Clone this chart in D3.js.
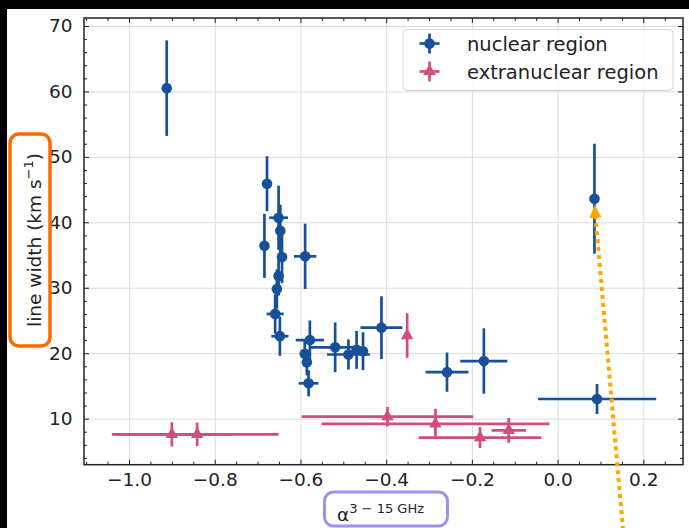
<!DOCTYPE html>
<html><head><meta charset="utf-8">
<script src="https://cdn.jsdelivr.net/npm/d3@7"></script>
<style>
html,body{margin:0;padding:0;background:#000;}
svg{display:block;font-family:"DejaVu Sans",sans-serif;}
</style></head>
<body>
<svg id="c" width="689" height="528"></svg>
<script>
// ---- data ----
const nucX    = [-0.912,-0.678,-0.684,-0.651,-0.647,-0.643,-0.589,-0.651,-0.655,-0.659,-0.648,-0.578,-0.590,-0.585,-0.581,-0.519,-0.488,-0.469,-0.454,-0.411,-0.258,-0.172,0.086,0.092];
const nucY    = [60.5,45.9,36.4,40.7,38.7,34.7,34.8,31.8,29.8,26.0,22.6,22.0,19.9,18.6,15.4,20.9,19.8,20.5,20.3,23.9,17.1,18.8,43.6,13.0];
const nucXErr = [0,0,0,0.022,0,0,0.026,0,0,0.020,0.020,0.033,0,0,0.023,0.060,0.050,0,0,0.049,0.050,0.055,0,0.138];
const nucYErr = [7.3,4.2,4.9,4.9,4.0,4.0,5.0,3.0,3.0,3.0,3.0,3.0,2.0,2.0,2.0,3.8,2.3,2.9,2.9,4.8,3.0,5.0,8.4,2.3];

const extX    = [-0.900,-0.841,-0.397,-0.285,-0.181,-0.114,-0.351];
const extY    = [7.6,7.6,10.3,9.2,7.1,8.2,22.7];
const extXErr = [0.14,0.19,0.20,0.266,0.143,0.040,0];
const extYErr = [1.85,1.8,1.5,2.3,1.6,1.9,3.4];

const xMajor = [-1.0,-0.8,-0.6,-0.4,-0.2,0.0,0.2];
const yMajor = [10,20,30,40,50,60,70];
const seriesNames = ["nuclear region","extranuclear region"];

// ---- layout ----
const svg = d3.select("#c");
const W = 689, H = 528;
const L = 84, R = 683, T = 18, B = 464.7;
const blue = "#17509a", pink = "#d64b7d";
const tickFont = 18.5;

svg.append("rect").attr("x",0).attr("y",0).attr("width",W).attr("height",H).attr("fill","#000");
svg.append("rect").attr("x",7).attr("y",9).attr("width",W-7).attr("height",H-9).attr("fill","#fff");

const x = d3.scaleLinear().domain([-1.105,0.2926]).range([L,R]);
const y = d3.scaleLinear().domain([2.96,71.22]).range([B,T]);

const xMinor = d3.range(-1.10,0.2926,0.05).map(v=>+v.toFixed(2)).filter(v=>!xMajor.some(m=>Math.abs(m-v)<1e-6));
const yMinor = d3.range(4,71,2).filter(v=>v%10!==0);

// grid
svg.append("g").attr("transform",`translate(0,${B})`)
  .call(d3.axisBottom(x).tickValues(xMajor).tickSize(-(B-T)).tickFormat(""))
  .call(g=>{g.select(".domain").remove(); g.selectAll("line").attr("stroke","#dcdcdc").attr("stroke-width",1);});
svg.append("g").attr("transform",`translate(${L},0)`)
  .call(d3.axisLeft(y).tickValues(yMajor).tickSize(-(R-L)).tickFormat(""))
  .call(g=>{g.select(".domain").remove(); g.selectAll("line").attr("stroke","#dcdcdc").attr("stroke-width",1);});

// data
function drawSeries(X,Y,XE,YE,color,marker){
  const g = svg.append("g");
  const idx = d3.range(X.length);
  g.selectAll("line.h").data(idx.filter(i=>XE[i]>0)).join("line")
    .attr("x1",i=>x(X[i]-XE[i])).attr("x2",i=>x(X[i]+XE[i]))
    .attr("y1",i=>y(Y[i])).attr("y2",i=>y(Y[i]))
    .attr("stroke",color).attr("stroke-width",2.7);
  g.selectAll("line.v").data(idx.filter(i=>YE[i]>0)).join("line")
    .attr("x1",i=>x(X[i])).attr("x2",i=>x(X[i]))
    .attr("y1",i=>y(Y[i]-YE[i])).attr("y2",i=>y(Y[i]+YE[i]))
    .attr("stroke",color).attr("stroke-width",2.7);
  if(marker==="circle"){
    g.selectAll("circle").data(idx).join("circle")
      .attr("cx",i=>x(X[i])).attr("cy",i=>y(Y[i])).attr("r",5.3).attr("fill",color);
  } else {
    g.selectAll("path.m").data(idx).join("path")
      .attr("transform",i=>`translate(${x(X[i])},${y(Y[i])})`)
      .attr("d",d3.symbol(d3.symbolTriangle,68)()).attr("fill",color);
  }
}
drawSeries(nucX,nucY,nucXErr,nucYErr,blue,"circle");
drawSeries(extX,extY,extXErr,extYErr,pink,"tri");

// axes (ticks inward)
const tickStyle = g=>{g.selectAll("line").attr("stroke","#222").attr("stroke-width",1);
  g.selectAll("text").attr("font-size",tickFont).attr("fill","#222").attr("font-family","DejaVu Sans");
  g.select(".domain").remove();};
svg.append("g").attr("transform",`translate(0,${B})`)
  .call(d3.axisBottom(x).tickValues(xMajor).tickSize(-5).tickPadding(8.5).tickFormat(d3.format(".1f"))).call(tickStyle);
svg.append("g").attr("transform",`translate(0,${B})`)
  .call(d3.axisBottom(x).tickValues(xMinor).tickSize(-3).tickFormat("")).call(tickStyle);
svg.append("g").attr("transform",`translate(0,${T})`)
  .call(d3.axisTop(x).tickValues(xMajor).tickSize(-5).tickFormat("")).call(tickStyle);
svg.append("g").attr("transform",`translate(0,${T})`)
  .call(d3.axisTop(x).tickValues(xMinor).tickSize(-3).tickFormat("")).call(tickStyle);
svg.append("g").attr("transform",`translate(${L},0)`)
  .call(d3.axisLeft(y).tickValues(yMajor).tickSize(-5).tickPadding(11.5).tickFormat(d3.format("d"))).call(tickStyle);
svg.append("g").attr("transform",`translate(${L},0)`)
  .call(d3.axisLeft(y).tickValues(yMinor).tickSize(-3).tickFormat("")).call(tickStyle);
svg.append("g").attr("transform",`translate(${R},0)`)
  .call(d3.axisRight(y).tickValues(yMajor).tickSize(-5).tickFormat("")).call(tickStyle);
svg.append("g").attr("transform",`translate(${R},0)`)
  .call(d3.axisRight(y).tickValues(yMinor).tickSize(-3).tickFormat("")).call(tickStyle);

svg.append("rect").attr("x",L).attr("y",T).attr("width",R-L).attr("height",B-T)
  .attr("fill","none").attr("stroke","#222").attr("stroke-width",1.5);

// legend
const lg = svg.append("g");
lg.append("rect").attr("x",403).attr("y",29.5).attr("width",270).attr("height",61).attr("rx",4)
  .attr("fill","#fff").attr("fill-opacity",0.85).attr("stroke","#d4d4d4").attr("stroke-width",1);
[[blue,"circle"],[pink,"tri"]].forEach((s,i)=>{
  const cx=429.5, cy=43.5+i*28;
  lg.append("line").attr("x1",cx-10).attr("x2",cx+10).attr("y1",cy).attr("y2",cy).attr("stroke",s[0]).attr("stroke-width",2.7);
  lg.append("line").attr("x1",cx).attr("x2",cx).attr("y1",cy-10).attr("y2",cy+10).attr("stroke",s[0]).attr("stroke-width",2.7);
  if(s[1]==="circle") lg.append("circle").attr("cx",cx).attr("cy",cy).attr("r",5.3).attr("fill",s[0]);
  else lg.append("path").attr("transform",`translate(${cx},${cy})`).attr("d",d3.symbol(d3.symbolTriangle,68)()).attr("fill",s[0]);
  lg.append("text").attr("x",467).attr("y",cy+7).attr("font-size",19.5).attr("fill","#222").text(seriesNames[i]);
});

// axis labels
const yl = svg.append("text").attr("transform","translate(41,240) rotate(-90)")
  .attr("text-anchor","middle").attr("font-size",18.5).attr("fill","#222");
yl.append("tspan").text("line width (km s");
yl.append("tspan").attr("dy",-8).attr("font-size",13).text("−1");
yl.append("tspan").attr("dy",8).text(")");

const xl = svg.append("text").attr("x",337).attr("y",521).attr("font-size",18.5).attr("fill","#222");
xl.append("tspan").text("α");
xl.append("tspan").attr("dy",-8.5).attr("font-size",13).text("3 − 15 GHz");

// annotation boxes
svg.append("rect").attr("x",10).attr("y",134).attr("width",40).attr("height",212).attr("rx",9)
  .attr("fill","none").attr("stroke","#ff6a00").attr("stroke-width",3.5);
svg.append("rect").attr("x",324.5).attr("y",492).attr("width",123).attr("height",34).attr("rx",9)
  .attr("fill","none").attr("stroke","#a08ff0").attr("stroke-width",3);

// arrow pointing to the point at (0.086, 43.6)
const tipX = x(nucX[22]), tipY = y(nucY[22]) + 6;
const tailX = 623, tailY = 530;
const ang = Math.atan2(tipY-tailY, tipX-tailX);
const hl = 13, hw = 6;
const bx = tipX - hl*Math.cos(ang), by = tipY - hl*Math.sin(ang);
svg.append("line").attr("x1",tailX).attr("y1",tailY).attr("x2",bx).attr("y2",by)
  .attr("stroke","#ffa500").attr("stroke-width",4).attr("stroke-dasharray","4,4");
svg.append("path").attr("d",`M${tipX},${tipY} L${bx+hw*Math.sin(ang)},${by-hw*Math.cos(ang)} L${bx-hw*Math.sin(ang)},${by+hw*Math.cos(ang)} Z`)
  .attr("fill","#ffa500");
</script>
</body></html>
